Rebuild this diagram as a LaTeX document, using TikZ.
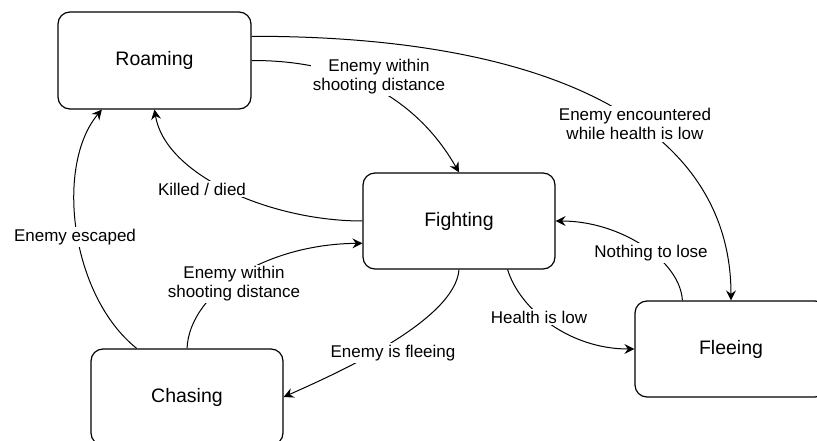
\documentclass[tikz,border=0pt]{standalone}
\usepackage{fontspec}
\setmainfont{Liberation Sans}
\usetikzlibrary{arrows.meta}
\begin{document}
\begin{tikzpicture}[x=1pt,y=-1pt,
  state/.style={draw, line width=1.2pt, rounded corners=12pt, minimum width=192pt, minimum height=96pt, inner sep=0pt, font=\fontsize{19.5}{22}\selectfont},
  lab/.style={fill=white, inner sep=2pt, align=center, font=\fontsize{17}{19}\selectfont},
  conn/.style={line width=1pt, -{Stealth[length=10pt,width=10pt,inset=3.5pt]}}]
\useasboundingbox (0,0) rectangle (817,441);
\clip (0,0) rectangle (817,441);
\node[state, minimum width=193pt, minimum height=97pt] (roam) at (154.5,60.5) {Roaming};
\node[state] (fight) at (459,221) {Fighting};
\node[state] (chase) at (187,397) {Chasing};
\node[state] (flee) at (731,349) {Fleeing};

\draw[conn] (roam.14) .. controls (560,36) and (731,130) .. (flee.north);
\draw[conn] (roam.east) .. controls (370,60) and (428,118) .. (fight.north);
\draw[conn] (fight.west) .. controls (270,221) and (165,175) .. (roam.south);
\draw[conn] (chase.136) .. controls (70,295) and (55,165) .. (roam.223);
\draw[conn] (chase.north) .. controls (190,290) and (270,244) .. (fight.193);
\draw[conn] (fight.south) .. controls (455,320) and (340,372) .. (chase.east);
\draw[conn] (fight.-45) .. controls (520,310) and (570,349) .. (flee.west);
\draw[conn] (flee.135) .. controls (680,260) and (620,221) .. (fight.east);

\node[lab] (lenc) at (635,124) {Enemy encountered\\while health is low};
\node[lab] (lwithin1) at (379,77) {Enemy within\\shooting distance};
\node[lab] (lkilled) at (202,189) {Killed / died};
\node[lab] (lesc) at (75,237) {Enemy escaped};
\node[lab] (lwithin2) at (234,284) {Enemy within\\shooting distance};
\node[lab] (lflee) at (393,353) {Enemy is fleeing};
\node[lab] (lhealth) at (539,317) {Health is low};
\node[lab] (lnothing) at (651,253) {Nothing to lose};
\end{tikzpicture}
\end{document}
